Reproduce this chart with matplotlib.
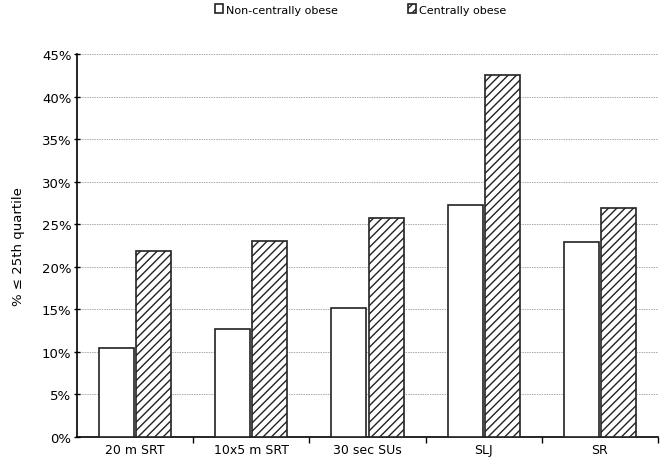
import matplotlib.pyplot as plt
import numpy as np
from matplotlib.patches import Patch
from matplotlib.ticker import PercentFormatter, FixedLocator

categories = ['20 m SRT', '10x5 m SRT', '30 sec SUs', 'SLJ', 'SR']
non_central = [10.4, 12.7, 15.1, 27.3, 22.9]
central = [21.8, 23.0, 25.7, 42.5, 26.9]
series_names = ['Non-centrally obese', 'Centrally obese']

plt.rcParams['hatch.linewidth'] = 1.0
plt.rcParams['font.family'] = 'DejaVu Sans'


def main():
    fig = plt.figure(figsize=(6.61, 4.60), dpi=100)
    ax = fig.add_axes([77 / 661, 22 / 460, 581 / 661, 383 / 460])

    x = np.arange(len(categories))
    w = 0.3
    ax.bar(x - 0.16, [v / 100 for v in non_central], width=w,
           color='white', edgecolor='#222222', linewidth=1.2, zorder=3)
    ax.bar(x + 0.16, [v / 100 for v in central], width=w,
           color='white', edgecolor='#222222', linewidth=1.2,
           hatch='////', zorder=3)

    ax.set_xlim(-0.5, len(categories) - 0.5)
    ax.set_ylim(0, 0.45)
    ax.set_yticks(np.arange(0, 0.451, 0.05))
    ax.yaxis.set_major_formatter(PercentFormatter(1.0, decimals=0))
    ax.set_xticks(x)
    ax.set_xticklabels(categories, fontsize=9)
    ax.tick_params(axis='x', length=0, pad=4)
    ax.xaxis.set_minor_locator(FixedLocator(np.arange(0.5, len(categories), 1.0)))
    ax.tick_params(axis='x', which='minor', length=4, direction='out', width=1)
    ax.tick_params(axis='y', labelsize=9.5, length=4, direction='inout', width=1, pad=2)

    ax.grid(axis='y', linestyle=(0, (1.5, 1)), color='#aaaaaa', linewidth=0.7, zorder=0)
    ax.spines['top'].set_visible(False)
    ax.spines['right'].set_visible(False)
    ax.spines['left'].set_linewidth(1.2)
    ax.spines['bottom'].set_linewidth(1.2)

    ax.set_ylabel('% \u2264 25th quartile', fontsize=9.5, labelpad=12)

    handles = [Patch(facecolor='white', edgecolor='#222222', linewidth=1.2),
               Patch(facecolor='white', edgecolor='#222222', linewidth=1.2, hatch='////')]
    fig.legend(handles, series_names, loc='upper center', bbox_to_anchor=(0.545, 1.01),
               ncol=2, frameon=False, fontsize=8, handlelength=0.8,
               handleheight=0.8, handletextpad=0.2, columnspacing=6.3)

    plt.savefig('out.png')


if __name__ == '__main__':
    main()
